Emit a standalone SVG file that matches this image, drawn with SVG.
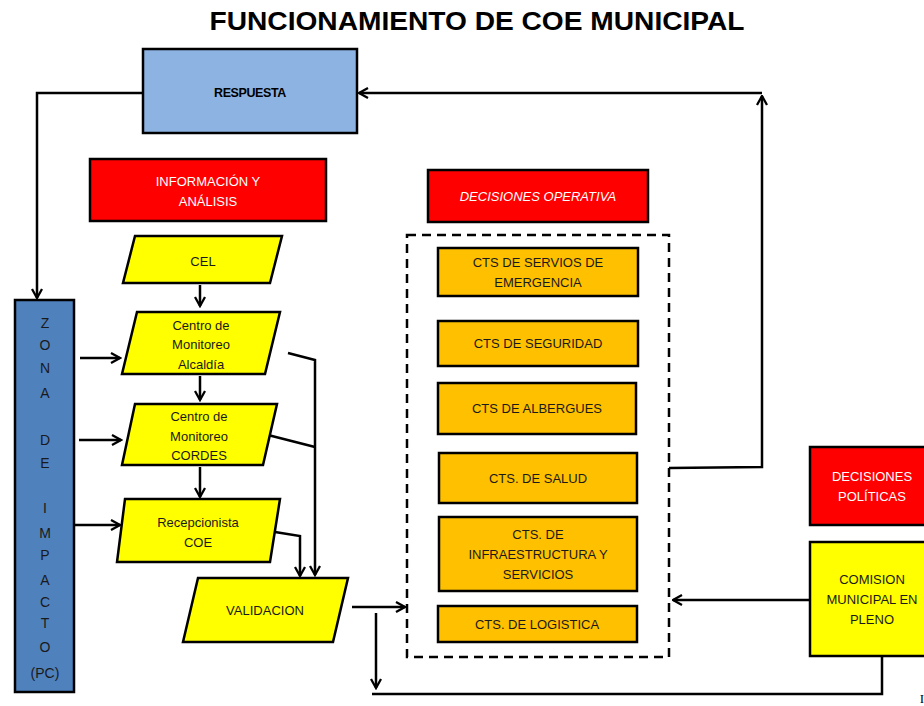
<svg xmlns="http://www.w3.org/2000/svg" width="924" height="706" viewBox="0 0 924 706">
<style>
text{font-family:"Liberation Sans",Arial,sans-serif;font-size:13px;fill:#1a1a1a;text-anchor:middle}
.w{fill:#ffffff}
.box{stroke:#000;stroke-width:2.5}
.red{fill:#ff0000}
.yel{fill:#ffff00}
.org{fill:#ffc000}
.ln{fill:none;stroke:#000;stroke-width:2.5}
.arr{marker-end:url(#ah)}
.z{font-size:14px}
</style>
<defs>
<marker id="ah" viewBox="0 0 12 12" refX="10.5" refY="6" markerWidth="12" markerHeight="12" markerUnits="userSpaceOnUse" orient="auto">
<path d="M1.5,1 L10.5,6 L1.5,11" fill="none" stroke="#000" stroke-width="2.3"/>
</marker>
</defs>
<rect width="924" height="706" fill="#fff"/>
<text x="477" y="30" style="font-size:25px;font-weight:bold;fill:#000" textLength="535" lengthAdjust="spacingAndGlyphs">FUNCIONAMIENTO DE COE MUNICIPAL</text>

<g id="connectors">
<polyline class="ln arr" points="143,93 37,93 37,298"/>
<line class="ln arr" x1="80" y1="358" x2="120" y2="358"/>
<line class="ln arr" x1="79" y1="440" x2="121" y2="440"/>
<line class="ln arr" x1="75" y1="525" x2="120" y2="525"/>
<line class="ln arr" x1="200" y1="285" x2="200" y2="306"/>
<line class="ln arr" x1="200" y1="376" x2="200" y2="400"/>
<line class="ln arr" x1="200" y1="467" x2="200" y2="497"/>
<polyline class="ln arr" points="288,353 315,360 315,575"/>
<line class="ln" x1="268" y1="435" x2="315" y2="447"/>
<polyline class="ln arr" points="275,532 300,536 300,576"/>
<line class="ln arr" x1="352" y1="607" x2="405" y2="607"/>
<line class="ln arr" x1="376" y1="613" x2="376" y2="688"/>
<polyline class="ln" points="372,694 882,694 882,656"/>
<line class="ln arr" x1="810" y1="600" x2="673" y2="600"/>
<polyline class="ln arr" points="669,468 762,467 762,96"/>
<line class="ln arr" x1="762" y1="93" x2="359" y2="93"/>
</g>

<g id="respuesta">
<rect class="box" x="143" y="49" width="214" height="84" fill="#8db3e2"/>
<text x="250" y="97" style="font-weight:bold;font-size:12.5px;fill:#000;letter-spacing:-0.4px">RESPUESTA</text>
</g>

<g id="zona">
<rect class="box" x="15" y="300" width="59" height="392" fill="#4f81bd"/>
<text class="z" x="45" y="328">Z</text>
<text class="z" x="45" y="350">O</text>
<text class="z" x="45" y="373">N</text>
<text class="z" x="45" y="398">A</text>
<text class="z" x="45" y="445">D</text>
<text class="z" x="45" y="468">E</text>
<text class="z" x="45" y="513">I</text>
<text class="z" x="45" y="538">M</text>
<text class="z" x="45" y="560">P</text>
<text class="z" x="45" y="585">A</text>
<text class="z" x="45" y="607">C</text>
<text class="z" x="45" y="628">T</text>
<text class="z" x="45" y="652">O</text>
<text class="z" x="45" y="678">(PC)</text>
</g>

<g id="info">
<rect class="box red" x="90" y="159" width="236" height="62"/>
<text class="w" x="208" y="186">INFORMACIÓN Y</text>
<text class="w" x="208" y="206">ANÁLISIS</text>
</g>

<g id="cel">
<polygon class="box yel" points="135,236 282,236 270,283 123,283"/>
<text x="203" y="266">CEL</text>
</g>

<g id="alcaldia">
<polygon class="box yel" points="137,312 280,312 265,374 122,374"/>
<text x="201" y="330">Centro de</text>
<text x="201" y="349">Monitoreo</text>
<text x="201" y="369">Alcaldía</text>
</g>

<g id="cordes">
<polygon class="box yel" points="135,404 277,404 263,465 122,465"/>
<text x="199" y="421">Centro de</text>
<text x="199" y="441">Monitoreo</text>
<text x="199" y="460">CORDES</text>
</g>

<g id="recepcionista">
<polygon class="box yel" points="125,499 280,499 270,562 117,562"/>
<text x="198" y="527">Recepcionista</text>
<text x="198" y="547">COE</text>
</g>

<g id="validacion">
<polygon class="box yel" points="198,578 348,578 333,642 183,642"/>
<text x="265" y="615">VALIDACION</text>
</g>

<g id="decisiones-operativa">
<rect class="box red" x="428" y="170" width="220" height="52"/>
<text class="w" x="538" y="201" style="font-style:italic">DECISIONES OPERATIVA</text>
</g>

<g id="cts-group">
<rect x="407" y="235" width="262" height="422" fill="none" stroke="#000" stroke-width="2.5" stroke-dasharray="9,6"/>
</g>

<g id="cts-emergencia">
<rect class="box org" x="438" y="248" width="200" height="48"/>
<text x="538" y="267">CTS DE SERVIOS DE</text>
<text x="538" y="287">EMERGENCIA</text>
</g>
<g id="cts-seguridad">
<rect class="box org" x="438" y="321" width="200" height="45"/>
<text x="538" y="348">CTS DE SEGURIDAD</text>
</g>
<g id="cts-albergues">
<rect class="box org" x="438" y="383" width="198" height="51"/>
<text x="537" y="413">CTS DE ALBERGUES</text>
</g>
<g id="cts-salud">
<rect class="box org" x="439" y="453" width="198" height="50"/>
<text x="538" y="483">CTS. DE SALUD</text>
</g>
<g id="cts-infra">
<rect class="box org" x="439" y="517" width="198" height="74"/>
<text x="538" y="539">CTS. DE</text>
<text x="538" y="559">INFRAESTRUCTURA Y</text>
<text x="538" y="579">SERVICIOS</text>
</g>
<g id="cts-logistica">
<rect class="box org" x="438" y="606" width="199" height="36"/>
<text x="537" y="629">CTS. DE LOGISTICA</text>
</g>

<g id="decisiones-politicas">
<rect class="box red" x="810" y="447" width="130" height="78"/>
<text class="w" x="872" y="481">DECISIONES</text>
<text class="w" x="872" y="501">POLÍTICAS</text>
</g>

<g id="comision">
<rect class="box yel" x="810" y="542" width="130" height="114"/>
<text x="872" y="584">COMISION</text>
<text x="872" y="604">MUNICIPAL EN</text>
<text x="872" y="624">PLENO</text>
</g>

<text x="922" y="703" style="font-family:'Liberation Serif',serif;font-size:13px;fill:#000">I</text>
</svg>
